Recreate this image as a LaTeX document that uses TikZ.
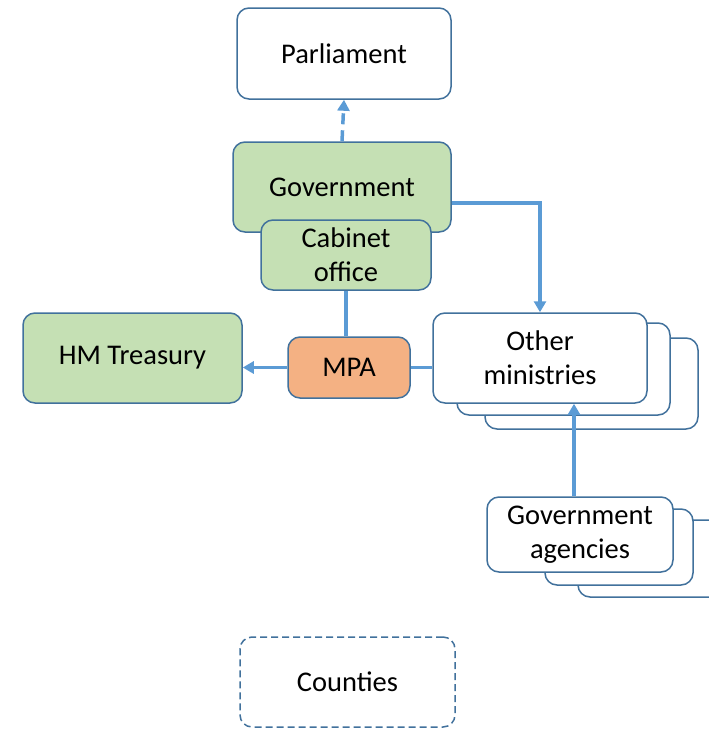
\documentclass[tikz,border=0pt]{standalone}
\usepackage{fontspec}
\setmainfont{Carlito}
\usetikzlibrary{arrows.meta}
\definecolor{boxblue}{HTML}{41719C}
\definecolor{boxgreen}{HTML}{C5E0B4}
\definecolor{boxorange}{HTML}{F4B183}
\definecolor{lineblue}{HTML}{5B9BD5}
\begin{document}
\begin{tikzpicture}[x=1pt, y=-1pt,
  box/.style={draw=boxblue, line width=1.5pt, rounded corners=12pt, align=center,
    inner sep=0pt, fill=white, font=\fontsize{28.5}{34}\selectfont},
  green box/.style={box, fill=boxgreen},
  back box/.style={draw=boxblue, line width=1.5pt, rounded corners=12pt, fill=white},
  link/.style={draw=lineblue, line width=3.5pt},
  arrow/.style={link, -{Triangle[length=11pt,width=12pt]}}]
\useasboundingbox (0,0) rectangle (709,729);
\node [box, minimum width=214pt, minimum height=91pt] (parl) at (344,53.5) {Parliament};
\node [green box, minimum width=218pt, minimum height=90pt] (gov) at (342,187) {Government};
\node [green box, minimum width=170pt, minimum height=70pt] (cab) at (346,255) {Cabinet\\office};
\node [green box, minimum width=219pt, minimum height=90pt] (hmt) at (132.5,358) {HM Treasury};
\node [box, fill=boxorange, minimum width=122pt, minimum height=61pt] (mpa) at (349,367.5) {MPA};
\node [back box, minimum width=213pt, minimum height=91pt] (mins3) at (591.5,383.5) {};
\node [back box, minimum width=213pt, minimum height=92pt] (mins2) at (563.5,369) {};
\node [box, minimum width=214pt, minimum height=90pt] (mins) at (540,358) {Other\\ministries};
\node [back box, minimum width=182pt, minimum height=77pt] (ag3) at (669,558.5) {};
\node [back box, minimum width=148pt, minimum height=76pt] (ag2) at (619,547) {};
\node [box, minimum width=186pt, minimum height=75pt] (ag) at (580,534.5) {Government\\agencies};
\node [box, dashed, dash pattern=on 7pt off 4pt, minimum width=215pt, minimum height=90pt] (cty) at (347.5,682) {Counties};
\draw [arrow, dash pattern=on 11pt off 6pt] (gov.north) -- (parl.south);
\draw [arrow] ([yshift=-16pt]gov.east) -| (mins.north);
\draw [link] (cab.south) -- (cab.south |- mpa.north);
\draw [arrow] (mpa.west) -- (mpa.west -| hmt.east);
\draw [link] (mpa.east) -- (mpa.east -| mins.west);
\draw [arrow] ([xshift=-6pt]ag.north) -- ([xshift=-6pt]ag.north |- mins.south);
\end{tikzpicture}
\end{document}
